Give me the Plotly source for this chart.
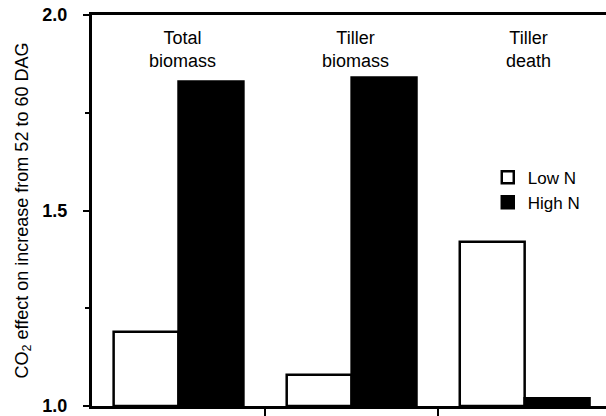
import plotly.graph_objects as go

categories = ["Total<br>biomass", "Tiller<br>biomass", "Tiller<br>death"]
low_n = [1.19, 1.08, 1.42]
high_n = [1.83, 1.84, 1.02]
y_ticks = [1.0, 1.5, 2.0]
y_ticklabels = ["1.0", "1.5", "2.0"]
baseline = 1.0

x = list(range(len(categories)))
boundaries = [i + 0.5 for i in x[:-1]]

fig = go.Figure()
fig.add_trace(go.Bar(x=x, y=[v - baseline for v in low_n], base=baseline, name="Low N",
                     marker=dict(color="white", line=dict(color="black", width=2.5))))
fig.add_trace(go.Bar(x=x, y=[v - baseline for v in high_n], base=baseline, name="High N",
                     marker=dict(color="black", line=dict(color="black", width=2.5))))

for i, c in enumerate(categories):
    fig.add_annotation(x=i, y=2.0, xref="x", yref="y", text=c, showarrow=False,
                       yanchor="top", yshift=-11, xshift=4,
                       font=dict(family="Liberation Sans, Arial", size=18, color="black"))

fig.update_layout(
    width=606, height=416,
    margin=dict(l=92, r=0, t=15, b=8),
    paper_bgcolor="white", plot_bgcolor="white",
    barmode="group", bargap=0.25, bargroupgap=0,
    font=dict(family="Liberation Sans, Arial", color="black"),
    showlegend=True,
    legend=dict(x=0.77, y=0.63, xanchor="left", yanchor="top",
                bgcolor="rgba(0,0,0,0)", traceorder="normal",
                font=dict(size=17, color="black"), itemwidth=30),
    xaxis=dict(range=[-0.5, 2.47], showline=True, linecolor="black", linewidth=3,
               mirror=True, ticks="outside", ticklen=7, tickwidth=2, tickcolor="black",
               tickvals=boundaries, showticklabels=False, showgrid=False, zeroline=False),
    yaxis=dict(range=[1.0, 2.0], showline=True, linecolor="black", linewidth=3,
               ticks="outside", ticklen=6, tickwidth=2, tickcolor="black",
               tickvals=y_ticks, ticktext=y_ticklabels, showgrid=False, zeroline=False,
               tickfont=dict(size=18, weight="bold"), ticklabelstandoff=12,
               ticklabeloverflow="allow",
               minor=dict(ticks="outside", ticklen=4, tickwidth=1.5, tickcolor="black", dtick=0.25, showgrid=False),
               title=dict(text="CO<sub>2</sub> effect on increase from 52 to 60 DAG",
                          font=dict(size=18), standoff=10)),
)

fig.write_html("out.html", config={"displayModeBar": False},
               post_script="document.body.style.margin='0';document.body.style.padding='0';")
